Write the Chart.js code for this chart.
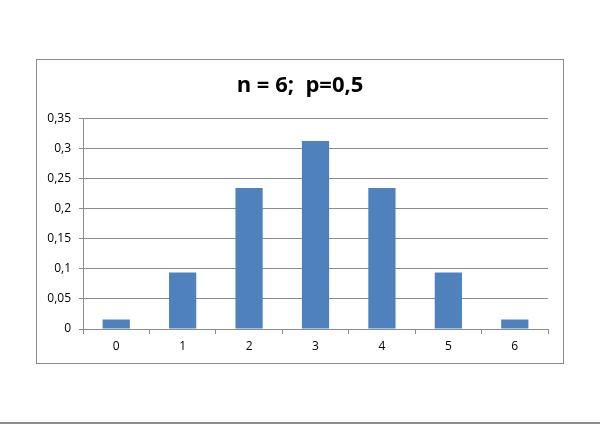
<!DOCTYPE html>
<html>
<head>
<meta charset="utf-8">
<script src="https://cdn.jsdelivr.net/npm/chart.js@4"></script>
<style>
  html, body { margin:0; padding:0; background:#fff; }
  body { width:600px; height:424px; position:relative; overflow:hidden; }
  .box { position:absolute; left:36px; top:59px; width:526px; height:303px; border:1px solid #8c8c8c; background:#fff; }
  .box canvas { display:block; }
  .bottom-line { position:absolute; left:0; top:422px; width:600px; height:2px; background:#8c8c8c; }
</style>
</head>
<body>
<div class="box"><canvas id="chart" width="526" height="303"></canvas></div>
<div class="bottom-line"></div>
<script>
// binomial n=6, p=0.5
const categories = ['0', '1', '2', '3', '4', '5', '6']
const probs = [0.0156, 0.0938, 0.2344, 0.3125, 0.2344, 0.0938, 0.0156]
const yTicks = [0, 0.05, 0.1, 0.15, 0.2, 0.25, 0.3, 0.35]
const titleText = 'n = 6;  p=0,5'

const fmtComma = v => String(Number(v.toFixed(2))).replace('.', ',')
const GRID = '#8c8c8c'
const FONT = "'Open Sans', 'Liberation Sans', sans-serif"

// centre the title on the whole box, not on the padded area
const centerTitle = {
  id: 'centerTitle',
  afterLayout(chart) {
    const tb = chart.titleBlock
    if (tb) { tb.left = 0; tb.right = chart.width; tb.width = chart.width }
  }
}

new Chart(document.getElementById('chart'), {
  type: 'bar',
  data: {
    labels: categories,
    datasets: [{ data: probs, backgroundColor: '#4f81bd', borderWidth: 0, categoryPercentage: 1, barPercentage: 0.41 }]
  },
  plugins: [centerTitle],
  options: {
    responsive: false,
    animation: false,
    layout: { padding: { top: 0, right: 15, bottom: 0, left: 0 } },
    plugins: {
      legend: { display: false },
      tooltip: { enabled: false },
      title: {
        display: true, text: titleText, color: '#000',
        font: { family: FONT, size: 22, weight: 'bold' },
        padding: { top: 13, bottom: 19 }
      }
    },
    scales: {
      x: {
        grid: { display: true, drawOnChartArea: false, color: GRID, tickLength: 5, offset: true },
        border: { color: GRID },
        ticks: { color: '#000', font: { family: FONT, size: 12 }, padding: 5 },
        afterFit: s => { s.height = 34 }
      },
      y: {
        min: 0, max: 0.35,
        afterBuildTicks: s => { s.ticks = yTicks.map(v => ({ value: v })) },
        grid: { color: GRID, tickLength: 4 },
        border: { color: GRID },
        ticks: { color: '#000', font: { family: FONT, size: 12 }, padding: 8, callback: v => fmtComma(v) },
        afterFit: s => { s.width = 46 }
      }
    }
  }
})
</script>
</body>
</html>
